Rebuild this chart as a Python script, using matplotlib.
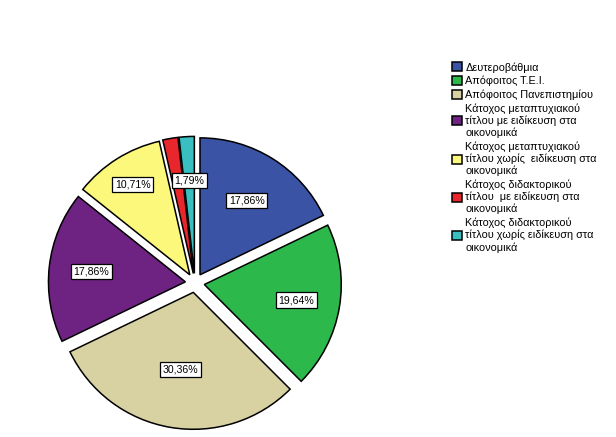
import matplotlib.pyplot as plt
import numpy as np

plt.rcParams['font.family'] = ['Liberation Sans', 'DejaVu Sans']

labels = ["Δευτεροβάθμια",
          "Απόφοιτος Τ.Ε.Ι.",
          "Απόφοιτος Πανεπιστημίου",
          "Κάτοχος μεταπτυχιακού\nτίτλου με ειδίκευση στα\nοικονομικά",
          "Κάτοχος μεταπτυχιακού\nτίτλου χωρίς  ειδίκευση στα\nοικονομικά",
          "Κάτοχος διδακτορικού\nτίτλου  με ειδίκευση στα\nοικονομικά",
          "Κάτοχος διδακτορικού\nτίτλου χωρίς ειδίκευση στα\nοικονομικά"]
values = [17.86, 19.64, 30.36, 17.86, 10.71, 1.79, 1.79]
pct_text = ["17,86%", "19,64%", "30,36%", "17,86%", "10,71%", "", "1,79%"]
colors = ["#3A53A4", "#2DB84B", "#D8D2A2", "#6E2383", "#FBF87B", "#E8262B", "#3ABFC1"]
label_dist = [0.64, 0.68, 0.57, 0.69, 0.78, 0.68, 0.68]

fig = plt.figure(figsize=(6.16, 4.37), dpi=100)
ax = fig.add_axes([0.0719, 0.0076, 0.489, 0.690])

wedges, _ = ax.pie(values, colors=colors, startangle=90, counterclock=False,
                   explode=[0.07] * len(values),
                   wedgeprops=dict(edgecolor="black", linewidth=1.1))
ax.set_xlim(-1.1, 1.1)
ax.set_ylim(-1.1, 1.1)
ax.set_aspect('equal')

for w, t, d in zip(wedges, pct_text, label_dist):
    if not t:
        continue
    ang = np.deg2rad((w.theta1 + w.theta2) / 2)
    cx, cy = w.center
    ax.text(cx + d * np.cos(ang), cy + d * np.sin(ang), t, ha='center', va='center',
            fontsize=7.6, bbox=dict(boxstyle='square,pad=0.25', fc='white', ec='black', lw=0.9))

fig.legend(wedges, labels, loc='upper left', bbox_to_anchor=(0.727, 0.868),
           frameon=False, fontsize=7.8, handlelength=0.9, handleheight=0.9,
           handletextpad=0.3, labelspacing=0.3, borderaxespad=0)

fig.savefig("out.png", dpi=100)
